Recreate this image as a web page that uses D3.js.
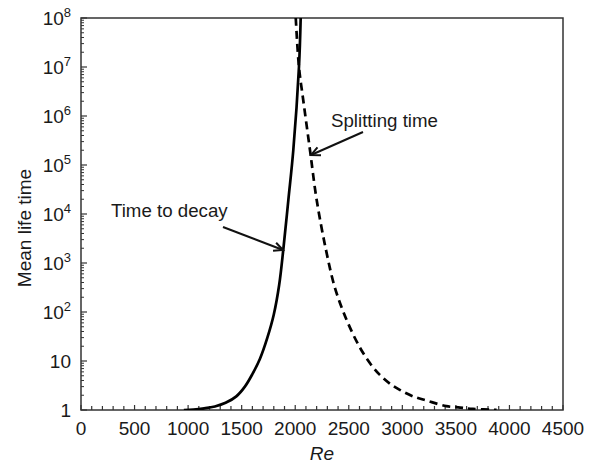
<!DOCTYPE html>
<html>
<head>
<meta charset="utf-8">
<script src="https://cdn.jsdelivr.net/npm/d3@7"></script>
<style>
  body { margin: 0; background: #fff; }
  text { font-family: "Liberation Sans", Arial, sans-serif; fill: #1a1a1a; }
</style>
</head>
<body>
<div id="wrapper"></div>
<script>
// Re vs mean life time
const decayRe    = [960, 1050, 1150, 1250, 1350, 1450, 1530, 1600, 1670, 1740, 1800, 1850, 1890, 1936, 1982, 2035, 2051] ;
const decayTime  = [1, 1.02, 1.08, 1.18, 1.4, 1.9, 3.0, 5.4, 11, 30, 89, 355, 2000, 19500, 2.0e5, 1e7, 1e8] ;
const splitRe    = [2005, 2035, 2075, 2138, 2200, 2287, 2370, 2480, 2600, 2700, 2790, 2880, 2980, 3100, 3230, 3410, 3540, 3660, 3880] ;
const splitTime  = [1e8, 1e7, 2.1e6, 2.0e5, 1.95e4, 1860, 316, 69, 19.5, 8.9, 5.2, 3.5, 2.55, 1.9, 1.55, 1.2, 1.12, 1.05, 1.01] ;

const xTicks = [0, 500, 1000, 1500, 2000, 2500, 3000, 3500, 4000, 4500] ;
const yDecades = [0, 1, 2, 3, 4, 5, 6, 7, 8] ;

const dimensions = {
  width: 597,
  height: 468,
  margin: { top: 18, right: 34, bottom: 58, left: 81 }
} ;
dimensions.boundedWidth = dimensions.width - dimensions.margin.left - dimensions.margin.right
dimensions.boundedHeight = dimensions.height - dimensions.margin.top - dimensions.margin.bottom

const svg = d3.select("#wrapper").append("svg")
    .attr("width", dimensions.width)
    .attr("height", dimensions.height)
;
const bounds = svg.append("g")
    .attr("transform", `translate(${dimensions.margin.left}, ${dimensions.margin.top})`)
;

const xScale = d3.scaleLinear()
  .domain([0, 4500])
  .range([0, dimensions.boundedWidth])
;
const yScale = d3.scaleLog()
  .domain([1, 1e8])
  .range([dimensions.boundedHeight, 0])
;

// clip so curves stop at the frame
svg.append("defs").append("clipPath").attr("id", "plotclip")
  .append("rect")
    .attr("width", dimensions.boundedWidth)
    .attr("height", dimensions.boundedHeight)
;

// ticks, inward
const xMinor = d3.range(0, 4501, 100) ;
bounds.append("g").selectAll("line")
  .data(xMinor)
  .enter().append("line")
    .attr("x1", (d) => xScale(d))
    .attr("x2", (d) => xScale(d))
    .attr("y1", dimensions.boundedHeight)
    .attr("y2", (d) => dimensions.boundedHeight - (d % 500 == 0 ? 5 : 4))
    .attr("stroke", "#333")
    .attr("stroke-width", 1.2)
;

const yMinor = [] ;
for (let e = 0; e < 8; e++) {
  for (let k = 2; k <= 9; k++) yMinor.push(k * Math.pow(10, e)) ;
}
bounds.append("g").selectAll("line")
  .data(yMinor)
  .enter().append("line")
    .attr("x1", 0)
    .attr("x2", 3)
    .attr("y1", (d) => yScale(d))
    .attr("y2", (d) => yScale(d))
    .attr("stroke", "#333")
    .attr("stroke-width", 1)
;
bounds.append("g").selectAll("line")
  .data(yDecades)
  .enter().append("line")
    .attr("x1", 0)
    .attr("x2", 6)
    .attr("y1", (d) => yScale(Math.pow(10, d)))
    .attr("y2", (d) => yScale(Math.pow(10, d)))
    .attr("stroke", "#333")
    .attr("stroke-width", 1.2)
;

// frame
bounds.append("rect")
  .attr("width", dimensions.boundedWidth)
  .attr("height", dimensions.boundedHeight)
  .attr("fill", "none")
  .attr("stroke", "#333")
  .attr("stroke-width", 1.5)
;

// tick labels
bounds.append("g").selectAll("text")
  .data(xTicks)
  .enter().append("text")
    .attr("x", (d) => xScale(d))
    .attr("y", dimensions.boundedHeight + 25)
    .attr("text-anchor", "middle")
    .style("font-size", "19px")
    .text((d) => d)
;

const yLabels = bounds.append("g").selectAll("text")
  .data(yDecades)
  .enter().append("text")
    .attr("x", -10)
    .attr("y", (d) => yScale(Math.pow(10, d)))
    .attr("dy", "0.36em")
    .attr("text-anchor", "end")
    .style("font-size", "19px")
;
yLabels.each(function(d) {
  const t = d3.select(this) ;
  if (d == 0) { t.text("1") ; return ; }
  t.append("tspan").text("10") ;
  if (d > 1) {
    t.append("tspan")
      .attr("dy", -8)
      .style("font-size", "13px")
      .text(d) ;
  }
}) ;

// axis titles
svg.append("text")
  .attr("x", dimensions.margin.left + dimensions.boundedWidth / 2)
  .attr("y", 460)
  .attr("text-anchor", "middle")
  .style("font-size", "19px")
  .style("font-style", "italic")
  .text("Re")
;
svg.append("text")
  .attr("transform", "translate(31, 228) rotate(-90)")
  .attr("text-anchor", "middle")
  .style("font-size", "19px")
  .text("Mean life time")
;

// curves
const lineGen = d3.line()
  .x((d) => xScale(d[0]))
  .y((d) => yScale(d[1]))
  .curve(d3.curveCatmullRom.alpha(0.5))
;
const curves = bounds.append("g").attr("clip-path", "url(#plotclip)") ;
curves.append("path")
  .attr("d", lineGen(d3.zip(decayRe, decayTime)))
  .attr("fill", "none")
  .attr("stroke", "#000")
  .attr("stroke-width", 2.7)
;
curves.append("path")
  .attr("d", lineGen(d3.zip(splitRe, splitTime)))
  .attr("fill", "none")
  .attr("stroke", "#000")
  .attr("stroke-width", 2.7)
  .attr("stroke-dasharray", "8,5")
;

// annotations
function drawArrow(g, x1, y1, x2, y2) {
  g.append("line")
    .attr("x1", x1).attr("y1", y1).attr("x2", x2).attr("y2", y2)
    .attr("stroke", "#111").attr("stroke-width", 2) ;
  const ang = Math.atan2(y2 - y1, x2 - x1) ;
  const len = 10, spread = 0.45 ;
  const pts = [
    [x2 - len * Math.cos(ang - spread), y2 - len * Math.sin(ang - spread)],
    [x2, y2],
    [x2 - len * Math.cos(ang + spread), y2 - len * Math.sin(ang + spread)]
  ] ;
  g.append("path")
    .attr("d", d3.line()(pts))
    .attr("fill", "none")
    .attr("stroke", "#111")
    .attr("stroke-width", 2) ;
}

const notes = svg.append("g") ;
notes.append("text")
  .attr("x", 111).attr("y", 217)
  .style("font-size", "18.7px")
  .text("Time to decay")
;
drawArrow(notes, 223, 227, 283, 250) ;
notes.append("text")
  .attr("x", 331).attr("y", 127)
  .style("font-size", "18.7px")
  .text("Splitting time")
;
drawArrow(notes, 363, 132, 311, 155) ;
</script>
</body>
</html>
